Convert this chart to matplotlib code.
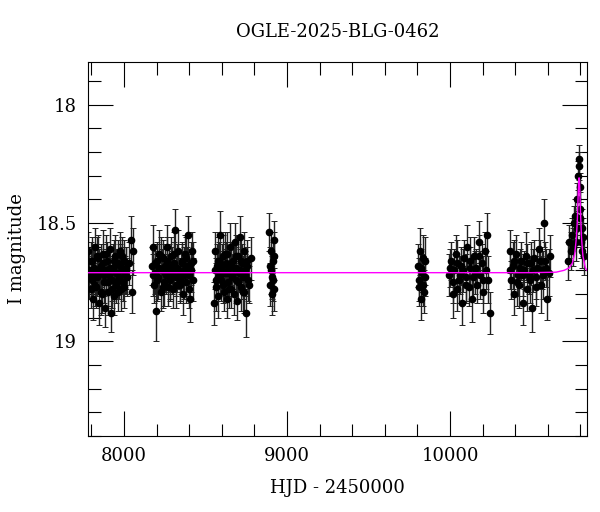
import matplotlib
matplotlib.use('Agg')
import matplotlib.pyplot as plt
from matplotlib.ticker import MultipleLocator

plt.rcParams['font.family'] = 'DejaVu Serif'

# season 1 (7780-8060)
s1_t = [7782, 7788, 7795, 7801, 7806, 7812, 7818, 7824, 7830, 7836, 7842, 7848, 7853, 7859,
        7865, 7871, 7877, 7883, 7889, 7895, 7900, 7906, 7912, 7918, 7924, 7930, 7936, 7942,
        7948, 7954, 7960, 7966, 7972, 7978, 7984, 7990, 7996, 8002, 8008, 8014, 8040, 8046, 8055,
        7785, 7798, 7809, 7821, 7833, 7845, 7856, 7868, 7880, 7892, 7903, 7915, 7927, 7939,
        7951, 7963, 7975, 7987, 7999, 8011, 8020, 8028]
s1_m = [18.62, 18.70, 18.78, 18.66, 18.74, 18.82, 18.69, 18.60, 18.77, 18.73, 18.65, 18.84, 18.71,
        18.68, 18.80, 18.63, 18.75, 18.86, 18.70, 18.66, 18.79, 18.72, 18.61, 18.88, 18.74, 18.69,
        18.81, 18.64, 18.76, 18.71, 18.67, 18.79, 18.73, 18.62, 18.78, 18.70, 18.75, 18.66, 18.72,
        18.69, 18.57, 18.79, 18.62,
        18.73, 18.66, 18.71, 18.76, 18.64, 18.70, 18.79, 18.67, 18.72, 18.63, 18.75, 18.69,
        18.78, 18.66, 18.71, 18.74, 18.68, 18.64, 18.77, 18.70, 18.73, 18.67]
s1_e = [0.08, 0.09, 0.08, 0.10, 0.08, 0.09, 0.10, 0.08, 0.09, 0.08, 0.10, 0.09, 0.08, 0.09,
        0.08, 0.10, 0.09, 0.08, 0.09, 0.08, 0.10, 0.08, 0.09, 0.08, 0.09, 0.10, 0.08, 0.09,
        0.08, 0.09, 0.10, 0.08, 0.09, 0.08, 0.09, 0.10, 0.08, 0.09, 0.08, 0.09, 0.10, 0.09, 0.10,
        0.09, 0.08, 0.10, 0.09, 0.08, 0.09, 0.10, 0.08, 0.09, 0.08, 0.10, 0.09, 0.08, 0.09,
        0.10, 0.08, 0.09, 0.08, 0.09, 0.10, 0.08, 0.09]
# season 2 (8170-8430)
s2_t = [8172, 8178, 8185, 8191, 8198, 8204, 8211, 8217, 8224, 8230, 8237, 8243, 8250, 8256,
        8263, 8269, 8276, 8282, 8289, 8295, 8302, 8308, 8315, 8321, 8328, 8334, 8341, 8347,
        8354, 8360, 8367, 8373, 8380, 8386, 8393, 8399, 8406, 8412, 8419, 8425,
        8175, 8188, 8201, 8214, 8227, 8240, 8253, 8266, 8279, 8292, 8305, 8318, 8331, 8344,
        8357, 8370, 8383, 8396, 8409, 8422]
s2_m = [18.68, 18.60, 18.76, 18.71, 18.87, 18.66, 18.73, 18.63, 18.79, 18.70, 18.65, 18.75,
        18.68, 18.72, 18.60, 18.77, 18.69, 18.74, 18.64, 18.71, 18.78, 18.67, 18.53, 18.73,
        18.69, 18.62, 18.76, 18.71, 18.66, 18.80, 18.70, 18.63, 18.75, 18.68, 18.55, 18.72,
        18.82, 18.67, 18.62, 18.74,
        18.72, 18.67, 18.74, 18.69, 18.64, 18.77, 18.71, 18.66, 18.73, 18.68, 18.63, 18.76,
        18.70, 18.74, 18.67, 18.72, 18.65, 18.78, 18.70, 18.66]
s2_e = [0.08, 0.09, 0.08, 0.09, 0.13, 0.08, 0.09, 0.10, 0.08, 0.09, 0.08, 0.10, 0.09, 0.08,
        0.09, 0.08, 0.10, 0.09, 0.08, 0.09, 0.08, 0.09, 0.09, 0.08, 0.10, 0.09, 0.08, 0.09,
        0.08, 0.09, 0.10, 0.08, 0.09, 0.08, 0.08, 0.09, 0.10, 0.09, 0.08, 0.09,
        0.09, 0.08, 0.09, 0.10, 0.08, 0.09, 0.08, 0.10, 0.09, 0.08, 0.09, 0.10, 0.08, 0.09,
        0.08, 0.10, 0.09, 0.08, 0.09, 0.08]
# season 3 (8550-8790)
s3_t = [8552, 8557, 8563, 8568, 8574, 8579, 8585, 8590, 8596, 8601, 8607, 8612, 8618, 8623,
        8629, 8634, 8640, 8645, 8651, 8656, 8662, 8667, 8673, 8678, 8684, 8689, 8695, 8700,
        8706, 8711, 8717, 8722, 8728, 8733, 8739, 8744, 8750, 8755, 8768, 8780,
        8555, 8566, 8577, 8588, 8599, 8610, 8621, 8632, 8643, 8654, 8665, 8676, 8687, 8698,
        8709, 8720, 8731, 8742, 8753, 8762]
s3_m = [18.84, 18.62, 18.77, 18.68, 18.73, 18.81, 18.66, 18.55, 18.74, 18.70, 18.64, 18.79,
        18.71, 18.67, 18.82, 18.63, 18.75, 18.69, 18.60, 18.78, 18.72, 18.66, 18.80, 18.58,
        18.74, 18.69, 18.83, 18.64, 18.71, 18.56, 18.77, 18.67, 18.73, 18.62, 18.79, 18.70,
        18.88, 18.66, 18.76, 18.65,
        18.70, 18.74, 18.66, 18.72, 18.68, 18.76, 18.63, 18.71, 18.78, 18.67, 18.73, 18.69,
        18.64, 18.75, 18.70, 18.66, 18.79, 18.72, 18.68, 18.74]
s3_e = [0.09, 0.08, 0.10, 0.09, 0.08, 0.09, 0.08, 0.10, 0.09, 0.08, 0.09, 0.08, 0.10, 0.09,
        0.08, 0.09, 0.08, 0.09, 0.10, 0.08, 0.09, 0.08, 0.09, 0.08, 0.10, 0.09, 0.08, 0.09,
        0.08, 0.09, 0.10, 0.08, 0.09, 0.08, 0.09, 0.08, 0.10, 0.09, 0.08, 0.09,
        0.08, 0.09, 0.10, 0.08, 0.09, 0.08, 0.09, 0.10, 0.08, 0.09, 0.08, 0.10, 0.09, 0.08,
        0.09, 0.10, 0.08, 0.09, 0.08, 0.09]
# season 4 (8880-8930)
s4_t = [8890, 8895, 8899, 8903, 8907, 8911, 8915, 8919, 8923, 8893, 8905, 8917]
s4_m = [18.54, 18.76, 18.62, 18.70, 18.80, 18.66, 18.74, 18.57, 18.78, 18.68, 18.73, 18.64]
s4_e = [0.08, 0.09, 0.08, 0.10, 0.09, 0.08, 0.09, 0.08, 0.09, 0.08, 0.09, 0.10]
# season 5 (9800-9860)
s5_t = [9805, 9812, 9818, 9824, 9830, 9836, 9842, 9848, 9808, 9821, 9833, 9845]
s5_m = [18.68, 18.77, 18.62, 18.82, 18.71, 18.65, 18.79, 18.73, 18.74, 18.69, 18.76, 18.66]
s5_e = [0.09, 0.08, 0.10, 0.09, 0.08, 0.10, 0.09, 0.08, 0.09, 0.08, 0.09, 0.10]
# season 6 (9990-10250)
s6_t = [9995, 10005, 10015, 10025, 10035, 10045, 10055, 10065, 10075, 10085, 10095, 10105,
        10115, 10125, 10135, 10145, 10155, 10165, 10175, 10185, 10195, 10205, 10215, 10225,
        10235, 10245, 10000, 10020, 10040, 10060, 10080, 10100, 10120, 10140, 10160, 10180,
        10200, 10220]
s6_m = [18.72, 18.66, 18.80, 18.70, 18.63, 18.78, 18.74, 18.68, 18.84, 18.65, 18.73, 18.60,
        18.77, 18.69, 18.82, 18.64, 18.71, 18.76, 18.58, 18.72, 18.67, 18.79, 18.62, 18.55,
        18.74, 18.88, 18.69, 18.75, 18.67, 18.72, 18.70, 18.76, 18.66, 18.73, 18.69, 18.64,
        18.74, 18.70]
s6_e = [0.09, 0.08, 0.10, 0.09, 0.08, 0.09, 0.10, 0.08, 0.09, 0.08, 0.10, 0.09, 0.08, 0.09,
        0.10, 0.08, 0.09, 0.08, 0.09, 0.10, 0.08, 0.09, 0.08, 0.09, 0.10, 0.09,
        0.08, 0.09, 0.10, 0.08, 0.09, 0.08, 0.10, 0.09, 0.08, 0.09, 0.10, 0.08]
# season 7 (10360-10620)
s7_t = [10365, 10375, 10385, 10395, 10405, 10415, 10425, 10435, 10445, 10455, 10465, 10475,
        10485, 10495, 10505, 10515, 10525, 10535, 10545, 10555, 10565, 10575, 10585, 10595,
        10605, 10612, 10370, 10390, 10410, 10430, 10450, 10470, 10490, 10510, 10530, 10550,
        10570, 10590]
s7_m = [18.62, 18.74, 18.68, 18.80, 18.63, 18.72, 18.76, 18.66, 18.84, 18.70, 18.64, 18.78,
        18.72, 18.67, 18.86, 18.65, 18.73, 18.69, 18.61, 18.76, 18.70, 18.50, 18.66, 18.82,
        18.71, 18.64, 18.70, 18.66, 18.75, 18.69, 18.72, 18.67, 18.74, 18.70, 18.77, 18.66,
        18.72, 18.69]
s7_e = [0.09, 0.08, 0.10, 0.09, 0.08, 0.09, 0.10, 0.08, 0.09, 0.08, 0.10, 0.09, 0.08, 0.09,
        0.10, 0.08, 0.09, 0.08, 0.09, 0.12, 0.08, 0.10, 0.08, 0.09, 0.10, 0.09,
        0.08, 0.09, 0.10, 0.08, 0.09, 0.08, 0.10, 0.09, 0.08, 0.09, 0.10, 0.08]
# season 8 event (10720-10830)
s8_t = [10725, 10732, 10740, 10748, 10755, 10762, 10768, 10772, 10776, 10780, 10784, 10788,
        10791, 10794, 10797, 10800, 10804, 10808, 10812, 10818, 10824]
s8_m = [18.66, 18.58, 18.62, 18.55, 18.60, 18.50, 18.47, 18.58, 18.52, 18.40, 18.30, 18.23,
        18.26, 18.35, 18.44, 18.48, 18.58, 18.52, 18.62, 18.56, 18.64]
s8_e = [0.08, 0.07, 0.08, 0.07, 0.08, 0.07, 0.07, 0.08, 0.07, 0.07, 0.06, 0.06, 0.06, 0.06,
        0.07, 0.07, 0.07, 0.08, 0.07, 0.08, 0.08]

model_t = [7779, 10000, 10500, 10650, 10700, 10730, 10750, 10765, 10775, 10780, 10784, 10787,
           10790, 10793, 10796, 10800, 10806, 10815, 10830, 10840]
model_m = [18.71, 18.71, 18.71, 18.708, 18.70, 18.69, 18.67, 18.63, 18.56, 18.50, 18.42, 18.36,
           18.31, 18.31, 18.36, 18.45, 18.56, 18.64, 18.69, 18.70]

hjd = s1_t + s2_t + s3_t + s4_t + s5_t + s6_t + s7_t + s8_t
mag = s1_m + s2_m + s3_m + s4_m + s5_m + s6_m + s7_m + s8_m
err = s1_e + s2_e + s3_e + s4_e + s5_e + s6_e + s7_e + s8_e

fig = plt.figure(figsize=(6.0, 5.12), dpi=100)
ax = fig.add_axes([88/600, 1-436/512, (587-88)/600, (436-62)/512])
ax.errorbar(hjd, mag, yerr=err, fmt='o', color='black', ms=4.5, elinewidth=1.0,
            capsize=2.5, capthick=0.7, ecolor='#222222')
ax.plot(model_t, model_m, color='magenta', lw=1.0, zorder=5)
ax.set_xlim(7779, 10840)
ax.set_ylim(19.40, 17.82)
ax.xaxis.set_major_locator(MultipleLocator(1000))
ax.xaxis.set_minor_locator(MultipleLocator(200))
ax.yaxis.set_minor_locator(MultipleLocator(0.1))
ax.set_yticks([18, 18.5, 19])
ax.set_yticklabels(['18', '18.5', '19'])
ax.tick_params(which='both', direction='in', top=True, right=True, labelsize=13)
ax.tick_params(which='major', length=18, width=0.8, pad=8)
ax.tick_params(which='minor', length=9, width=0.8)
ax.set_xlabel('HJD - 2450000', fontsize=13, labelpad=10)
ax.set_ylabel('I magnitude', fontsize=13, labelpad=8)
ax.set_title('OGLE-2025-BLG-0462', fontsize=13, pad=18)
fig.savefig('out.png', dpi=100)
